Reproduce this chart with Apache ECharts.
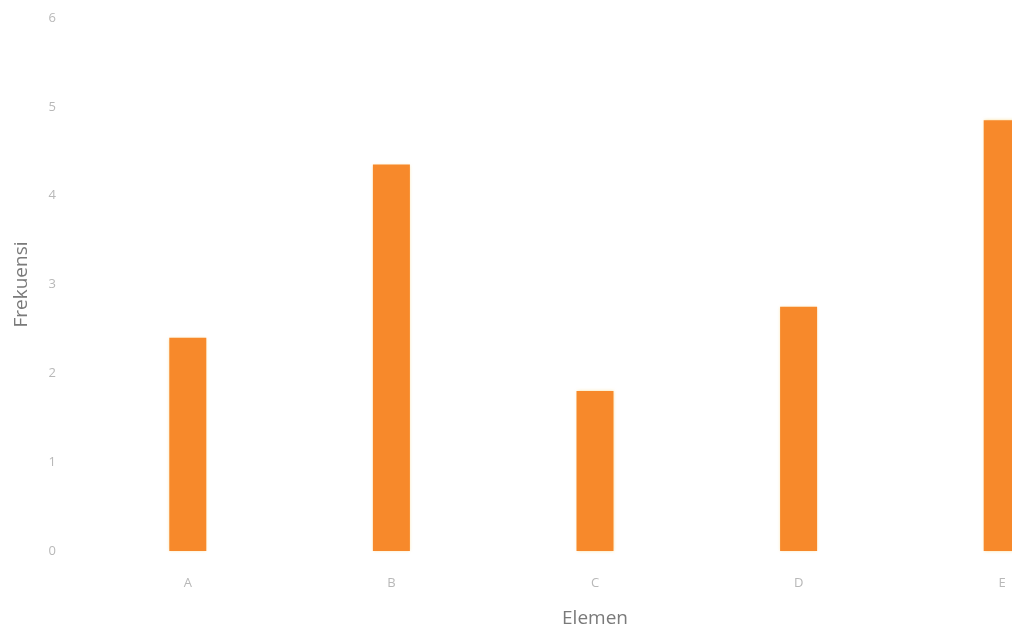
<!DOCTYPE html>
<html>
<head>
<meta charset="utf-8">
<script src="https://cdn.jsdelivr.net/npm/echarts@6/dist/echarts.min.js"></script>
<style>
  html, body { margin: 0; padding: 0; background: #fff; }
  #chart { width: 1012px; height: 631px; }
</style>
</head>
<body>
<div id="chart"></div>
<script>
// Frequency per element
const categories = ['A', 'B', 'C', 'D', 'E'];
const frekuensi = [2.4, 4.35, 1.8, 2.75, 4.85];
const yTicks = [0, 1, 2, 3, 4, 5, 6];

const chart = echarts.init(document.getElementById('chart'));
chart.setOption({
  animation: false,
  backgroundColor: '#ffffff',
  grid: {
    left: 86, top: 18, width: 1018, bottom: 80,
    containLabel: false,
    outerBoundsMode: 'none'
  },
  xAxis: {
    type: 'category',
    data: categories,
    name: 'Elemen',
    nameLocation: 'middle',
    nameGap: 58,
    nameTextStyle: { color: '#7a7a7a', fontSize: 19, fontFamily: 'Open Sans' },
    axisLine: { show: false },
    axisTick: { show: false },
    axisLabel: { color: '#b8b8b8', fontSize: 13, margin: 26, fontFamily: 'Open Sans' }
  },
  yAxis: {
    type: 'value',
    min: yTicks[0],
    max: yTicks[yTicks.length - 1],
    interval: 1,
    name: 'Frekuensi',
    nameLocation: 'middle',
    nameRotate: 90,
    nameGap: 55,
    nameTextStyle: { color: '#7a7a7a', fontSize: 19, fontFamily: 'Open Sans' },
    axisLine: { show: false },
    axisTick: { show: false },
    splitLine: { show: false },
    axisLabel: { color: '#b8b8b8', fontSize: 13, margin: 30, fontFamily: 'Open Sans' }
  },
  series: [{
    type: 'bar',
    data: frekuensi,
    barWidth: 37,
    itemStyle: {
      color: '#f7892b',
      shadowColor: 'rgba(245, 200, 90, 0.6)',
      shadowBlur: 3
    }
  }]
});
</script>
</body>
</html>
